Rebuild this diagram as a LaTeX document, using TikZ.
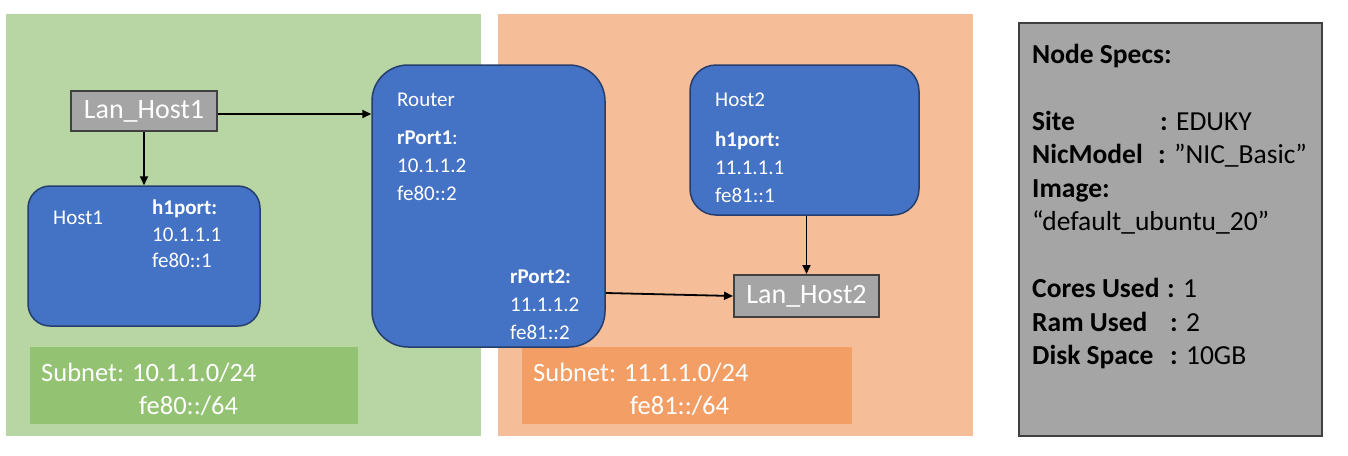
\documentclass[tikz,border=0pt]{standalone}
\usepackage{fontspec}
\setmainfont{Carlito}
\usetikzlibrary{arrows.meta}
\definecolor{panelgreen}{RGB}{183,214,164}
\definecolor{panelorange}{RGB}{246,190,152}
\definecolor{subgreen}{RGB}{147,194,114}
\definecolor{suborange}{RGB}{242,158,101}
\definecolor{hostblue}{RGB}{68,114,196}
\definecolor{hostborder}{RGB}{38,62,110}
\definecolor{langray}{RGB}{165,165,165}
\definecolor{darkline}{RGB}{64,64,64}
\tikzset{
  panel/.style={draw=none, inner sep=0, outer sep=0},
  hostbox/.style={draw=hostborder, line width=1.5pt, fill=hostblue, inner sep=0},
  lanbox/.style={draw=darkline, line width=2pt, fill=langray, text=white, inner sep=0, font=\fontsize{28}{32}\selectfont},
  lbl/.style={anchor=base west, inner sep=0, text=white, font=\fontsize{21}{24}\selectfont},
  sublbl/.style={anchor=base west, inner sep=0, text=white, font=\fontsize{26.5}{32}\selectfont},
  spec/.style={anchor=base west, inner sep=0, text=black, font=\fontsize{27.5}{32}\selectfont},
  arr/.style={-{Triangle[length=9pt,width=8pt]}, line width=1.8pt, black}
}
\begin{document}
\begin{tikzpicture}[x=1pt,y=-1pt]
\useasboundingbox (0,0) rectangle (1348,455);
\fill[white] (0,0) rectangle (1348,455);
% panels
\node[panel, fill=panelgreen, minimum width=475, minimum height=422] (pgreen) at (243.5,225) {};
\node[panel, fill=panelorange, minimum width=475, minimum height=422] (porange) at (735.5,225) {};
\node[panel, fill=subgreen, minimum width=328, minimum height=77] (sgreen) at (194,385.5) {};
\node[panel, fill=suborange, minimum width=330, minimum height=77] (sorange) at (687,385.5) {};
\node[sublbl] (sg1) at (41,381) {Subnet: 10.1.1.0/24};
\node[sublbl] (sg2) at (139,414) {fe80::/64};
\node[sublbl] (so1) at (533,381) {Subnet: 11.1.1.0/24};
\node[sublbl] (so2) at (630,414) {fe81::/64};
% hosts
\node[hostbox, rounded corners=22pt, minimum width=232, minimum height=140] (host1) at (144,256) {};
\node[hostbox, rounded corners=36pt, minimum width=233, minimum height=282] (router) at (488.5,206) {};
\node[hostbox, rounded corners=26pt, minimum width=229, minimum height=150] (host2) at (804.5,140) {};
\node[lanbox, minimum width=146, minimum height=40] (lan1) at (144,111) {Lan\_Host1};
\node[lanbox, minimum width=145, minimum height=42] (lan2) at (806.5,296) {Lan\_Host2};
% host1 text
\node[lbl] (h1name) at (53,224) {Host1};
\node[lbl] (h1port) at (152,214) {\textbf{h1port:}};
\node[lbl] (h1ip4) at (152,241) {10.1.1.1};
\node[lbl] (h1ip6) at (152,267) {fe80::1};
% router text
\node[lbl] (rname) at (397,106) {Router};
\node[lbl] (rp1) at (397,144) {\textbf{rPort1}:};
\node[lbl] (rp1ip4) at (397,172) {10.1.1.2};
\node[lbl] (rp1ip6) at (397,200) {fe80::2};
\node[lbl] (rp2) at (510,283) {\textbf{rPort2:}};
\node[lbl] (rp2ip4) at (510,311) {11.1.1.2};
\node[lbl] (rp2ip6) at (510,339) {fe81::2};
% host2 text
\node[lbl] (h2name) at (715,106) {Host2};
\node[lbl] (h2port) at (715,146) {\textbf{h1port:}};
\node[lbl] (h2ip4) at (715,174) {11.1.1.1};
\node[lbl] (h2ip6) at (715,202) {fe81::1};
% connectors
\draw[arr] (lan1.south) -- (host1.north);
\draw[arr] ([yshift=-3pt]lan1.east) -- ([yshift=-3pt]lan1.east -| router.west);
\draw[arr] ([yshift=-87pt]router.east) -- (lan2.west);
\draw[arr] (host2.south -| lan2.north) -- (lan2.north);
% specs box
\node[draw=darkline, line width=2pt, fill=langray, minimum width=303, minimum height=413, inner sep=0] (specs) at (1170.5,229.5) {};
\node[spec] (s0) at (1032,63) {\textbf{Node Specs:}};
\node[spec] (s1) at (1032,130) {\makebox[128pt][l]{\textbf{Site}}\textbf{:} EDUKY};
\node[spec] (s2) at (1032,163.5) {\makebox[126pt][l]{\textbf{NicModel}}\textbf{:} ”NIC\_Basic”};
\node[spec] (s3) at (1032,197) {\textbf{Image:}};
\node[spec] (s4) at (1032,230.5) {“default\_ubuntu\_20”};
\node[spec] (s5) at (1032,297.5) {\makebox[135pt][l]{\textbf{Cores Used}}\textbf{:} 1};
\node[spec] (s6) at (1032,331) {\makebox[138pt][l]{\textbf{Ram Used}}\textbf{:} 2};
\node[spec] (s7) at (1032,364.5) {\makebox[138pt][l]{\textbf{Disk Space}}\textbf{:} 10GB};
\end{tikzpicture}
\end{document}
